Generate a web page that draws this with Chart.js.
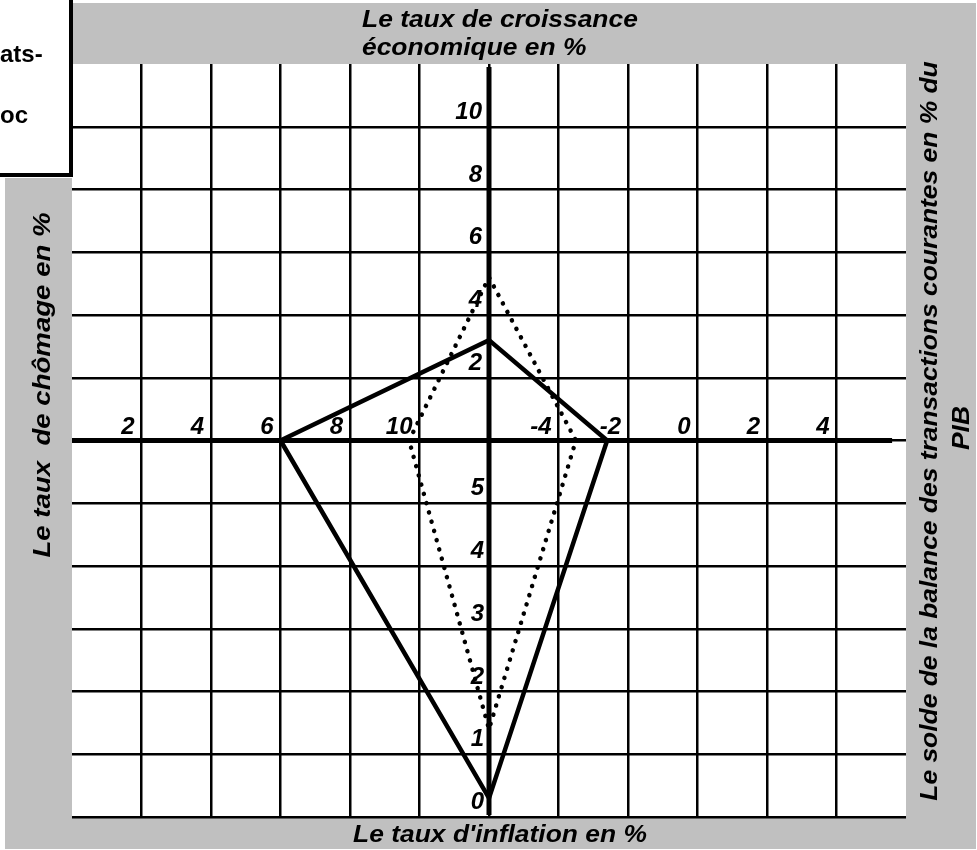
<!DOCTYPE html>
<html>
<head>
<meta charset="utf-8">
<script src="https://cdn.jsdelivr.net/npm/chart.js@4/dist/chart.umd.min.js"></script>
<style>
  html, body { margin: 0; padding: 0; background: #fff; }
  #wrap { width: 977px; height: 850px; }
</style>
</head>
<body>
<div id="wrap"><canvas id="c" width="977" height="850"></canvas></div>
<script>
// ---- Data ----
// order of each series: [chômage, croissance, solde transactions courantes, inflation]
const categories = ['Le taux  de chômage en %', 'Le taux de croissance économique en %', 'Le solde de la balance des transactions courantes en % du PIB', "Le taux d'inflation en %"];
const seriesSolid = [6, 3.2, -2.6, 0.3];
const seriesDotted = [9.7, 5.2, -3.5, 1.4];
const unemploymentTicks = [2, 4, 6, 8, 10];
const balanceTicks = [-4, -2, 0, 2, 4];
const growthTicks = [2, 4, 6, 8, 10];
const inflationTicks = [5, 4, 3, 2, 1, 0];
const legendLines = ['ats-', 'oc'];

// ---- Axis definitions of the magic square (value -> grid units) ----
const U_ORIGIN = 12, B_ORIGIN = -6, I_ORIGIN = 6;
const uX = u => (u - U_ORIGIN) / 2;
const bX = b => (b - B_ORIGIN) / 2;
const gY = g => g / 2;
const iY = i => i - I_ORIGIN;

function polygon(s) {
  const [u, g, b, i] = s;
  const pts = [
    { x: uX(u), y: 0 },
    { x: 0, y: gY(g) },
    { x: bX(b), y: 0 },
    { x: 0, y: iY(i) }
  ];
  pts.push({ ...pts[0] });
  return pts;
}

const GRAY = '#c0c0c0';
const TICK_FONT = 'italic bold 24px "Liberation Sans", Arial, sans-serif';
const TITLE_FONT = 'italic bold 24px "Liberation Sans", Arial, sans-serif';

const decor = {
  id: 'decor',
  beforeDraw(chart) {
    const ctx = chart.ctx, a = chart.chartArea;
    ctx.save();
    ctx.fillStyle = '#fff';
    ctx.fillRect(0, 0, chart.width, chart.height);
    ctx.fillStyle = GRAY;
    ctx.fillRect(5, 3, 971, 846);
    ctx.fillStyle = '#fff';
    ctx.fillRect(a.left, a.top, a.right - a.left, a.bottom - a.top);
    // legend box (partly outside the page)
    ctx.fillStyle = '#fff';
    ctx.fillRect(0, 0, 73, 178);
    ctx.strokeStyle = '#000';
    ctx.lineWidth = 4;
    ctx.beginPath();
    ctx.moveTo(71, 0); ctx.lineTo(71, 177);
    ctx.moveTo(0, 175); ctx.lineTo(73, 175);
    ctx.stroke();
    ctx.fillStyle = '#000';
    ctx.font = 'bold 24px "Liberation Sans", Arial, sans-serif';
    ctx.textAlign = 'left';
    ctx.textBaseline = 'alphabetic';
    ctx.fillText(legendLines[0], 0, 62);
    ctx.fillText(legendLines[1], 0, 123);
    ctx.restore();
  },
  beforeDatasetsDraw(chart) {
    const ctx = chart.ctx, a = chart.chartArea;
    const xs = chart.scales.x, ys = chart.scales.y;
    const x0 = xs.getPixelForValue(0), y0 = ys.getPixelForValue(0);
    ctx.save();
    ctx.strokeStyle = '#000';
    ctx.lineWidth = 5;
    ctx.beginPath();
    ctx.moveTo(a.left, y0); ctx.lineTo(xs.getPixelForValue(5.8), y0);
    ctx.moveTo(x0, a.top + 3); ctx.lineTo(x0, a.bottom - 2);
    ctx.stroke();
    ctx.restore();
  },
  afterDraw(chart) {
    const ctx = chart.ctx;
    const xs = chart.scales.x, ys = chart.scales.y;
    const x0 = xs.getPixelForValue(0), y0 = ys.getPixelForValue(0);
    ctx.save();
    ctx.fillStyle = '#000';
    ctx.font = TICK_FONT;
    ctx.textAlign = 'right';
    ctx.textBaseline = 'alphabetic';
    unemploymentTicks.forEach(v => ctx.fillText(String(v), xs.getPixelForValue(uX(v)) - 7, y0 - 7));
    balanceTicks.forEach(v => ctx.fillText(String(v), xs.getPixelForValue(bX(v)) - 7, y0 - 7));
    growthTicks.forEach(v => ctx.fillText(String(v), x0 - 7, ys.getPixelForValue(gY(v)) - 8));
    inflationTicks.forEach(v => ctx.fillText(String(v), x0 - 5, ys.getPixelForValue(iY(v)) - 8));

    // titles
    ctx.font = TITLE_FONT;
    function txt(s, x, y, rot, align, sx) {
      ctx.save();
      ctx.translate(x, y);
      if (rot) ctx.rotate(rot);
      ctx.scale(sx, 1);
      ctx.textAlign = align;
      ctx.fillText(s, 0, 0);
      ctx.restore();
    }
    txt('Le taux de croissance', 362, 27, 0, 'left', 1.1);
    txt('économique en %', 362, 55, 0, 'left', 1.1);
    txt(categories[3], 500, 842, 0, 'center', 1.1);
    txt(categories[0], 50, 385, -Math.PI / 2, 'center', 1.15);
    txt('Le solde de la balance des transactions courantes en % du', 937, 431, -Math.PI / 2, 'center', 1.1);
    txt('PIB', 969, 428, -Math.PI / 2, 'center', 1.1);
    ctx.restore();
  }
};

const gridColor = (axis) => (ctx) => {
  const v = ctx.tick && ctx.tick.value;
  if (v === 6) return 'rgba(0,0,0,0)';
  if (v === -6 && axis === 'x') return 'rgba(0,0,0,0)';
  return '#000';
};

new Chart(document.getElementById('c'), {
  type: 'scatter',
  data: {
    datasets: [
      {
        label: 'solid',
        data: polygon(seriesSolid),
        showLine: true,
        fill: false,
        borderColor: '#000',
        borderWidth: 4.5,
        pointRadius: 0,
        borderJoinStyle: 'miter',
        tension: 0
      },
      {
        label: 'dotted',
        data: polygon(seriesDotted),
        showLine: true,
        fill: false,
        borderColor: '#000',
        borderWidth: 4.5,
        borderDash: [0.1, 9.5],
        borderCapStyle: 'round',
        pointRadius: 0,
        tension: 0
      }
    ]
  },
  options: {
    responsive: false,
    animation: false,
    events: [],
    layout: { padding: { left: 72, top: 64, right: 71, bottom: 33 } },
    plugins: { legend: { display: false }, tooltip: { enabled: false } },
    scales: {
      x: {
        type: 'linear', min: -6, max: 6,
        ticks: { display: false, stepSize: 1 },
        grid: { color: gridColor('x'), lineWidth: 2.5, drawTicks: false },
        border: { display: false }
      },
      y: {
        type: 'linear', min: -6, max: 6,
        ticks: { display: false, stepSize: 1 },
        grid: { color: gridColor('y'), lineWidth: 2.5, drawTicks: false },
        border: { display: false }
      }
    }
  },
  plugins: [decor]
});
</script>
</body>
</html>
